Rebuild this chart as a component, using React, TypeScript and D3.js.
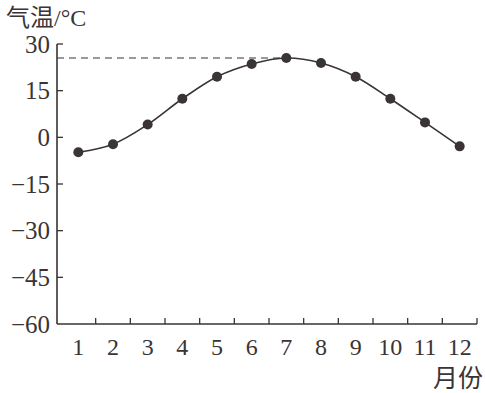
import { useEffect, useRef } from "react";
import * as d3 from "d3";

const months = ["1", "2", "3", "4", "5", "6", "7", "8", "9", "10", "11", "12"];
const temps = [-4.8, -2.2, 4.1, 12.4, 19.5, 23.6, 25.5, 23.9, 19.5, 12.4, 4.8, -2.9];
const yTicks = [30, 15, 0, -15, -30, -45, -60];

const width = 485;
const height = 393;
const ink = "#3a3434";
const serif = "'Liberation Serif', 'DejaVu Serif', serif";
const cjk = "'Noto Sans CJK SC', sans-serif";

export default function App() {
  const svgRef = useRef<SVGSVGElement>(null);

  useEffect(() => {
    if (!svgRef.current) return;
    const svg = d3.select(svgRef.current);
    svg.selectAll("*").remove();

    const x0 = 57;
    const x1 = 477;
    const yBottom = 324;

    const x = d3.scaleBand<string>().domain(months).range([61, x1]);
    const y = d3.scaleLinear().domain([-60, 30]).range([yBottom, 44]);
    const cx = (m: string) => (x(m) || 0) + x.bandwidth() / 2;

    const g = svg.append("g");

    // axes
    g.append("line")
      .attr("x1", x0).attr("x2", x0)
      .attr("y1", y(30)).attr("y2", yBottom)
      .attr("stroke", ink).attr("stroke-width", 1.6);
    g.append("line")
      .attr("x1", x0).attr("x2", x1)
      .attr("y1", yBottom).attr("y2", yBottom)
      .attr("stroke", ink).attr("stroke-width", 1.6);

    // y ticks + labels
    g.selectAll("line.ytick")
      .data(yTicks.filter((d) => d !== -60))
      .join("line")
      .attr("class", "ytick")
      .attr("x1", x0).attr("x2", x0 + 6)
      .attr("y1", (d) => y(d)).attr("y2", (d) => y(d))
      .attr("stroke", ink).attr("stroke-width", 1.3);

    g.selectAll("text.ylab")
      .data(yTicks)
      .join("text")
      .attr("class", "ylab")
      .attr("x", 50)
      .attr("y", (d) => y(d))
      .attr("text-anchor", "end")
      .attr("dominant-baseline", "central")
      .style("font-family", serif)
      .style("font-size", "25px")
      .style("fill", ink)
      .text((d) => (d < 0 ? "\u2212" + Math.abs(d) : String(d)));

    // x ticks at band ends
    g.selectAll("line.xtick")
      .data(months)
      .join("line")
      .attr("class", "xtick")
      .attr("x1", (d) => (x(d) || 0) + x.bandwidth())
      .attr("x2", (d) => (x(d) || 0) + x.bandwidth())
      .attr("y1", yBottom).attr("y2", yBottom - 6)
      .attr("stroke", ink).attr("stroke-width", 1.3);

    g.selectAll("text.xlab")
      .data(months)
      .join("text")
      .attr("class", "xlab")
      .attr("x", (d) => cx(d))
      .attr("y", 355)
      .attr("text-anchor", "middle")
      .style("font-family", serif)
      .style("font-size", "24px")
      .style("fill", ink)
      .text((d) => d);

    // dashed max line
    const maxIdx = temps.indexOf(d3.max(temps) as number);
    g.append("line")
      .attr("x1", x0).attr("x2", cx(months[maxIdx]))
      .attr("y1", y(temps[maxIdx])).attr("y2", y(temps[maxIdx]))
      .attr("stroke", ink).attr("stroke-width", 1.2)
      .attr("stroke-dasharray", "7,5");

    // curve
    const line = d3
      .line<number>()
      .x((_, i) => cx(months[i]))
      .y((d) => y(d))
      .curve(d3.curveCatmullRom.alpha(0.5));
    g.append("path")
      .datum(temps)
      .attr("d", line)
      .attr("fill", "none")
      .attr("stroke", ink)
      .attr("stroke-width", 1.6);

    g.selectAll("circle.pt")
      .data(temps)
      .join("circle")
      .attr("class", "pt")
      .attr("cx", (_, i) => cx(months[i]))
      .attr("cy", (d) => y(d))
      .attr("r", 5)
      .attr("fill", ink);

    // titles
    const t = svg.append("text")
      .attr("x", 6)
      .attr("y", 26)
      .style("font-size", "24px")
      .style("fill", ink);
    t.append("tspan").style("font-family", cjk).text("气温");
    t.append("tspan").style("font-family", serif).text("/°C");

    svg.append("text")
      .attr("x", 483)
      .attr("y", 387)
      .attr("text-anchor", "end")
      .style("font-family", cjk)
      .style("font-size", "25px")
      .style("fill", ink)
      .text("月份");
  }, []);

  return (
    <svg
      ref={svgRef}
      width={width}
      height={height}
      style={{ position: "absolute", left: 0, top: 0, background: "#fff" }}
    />
  );
}
